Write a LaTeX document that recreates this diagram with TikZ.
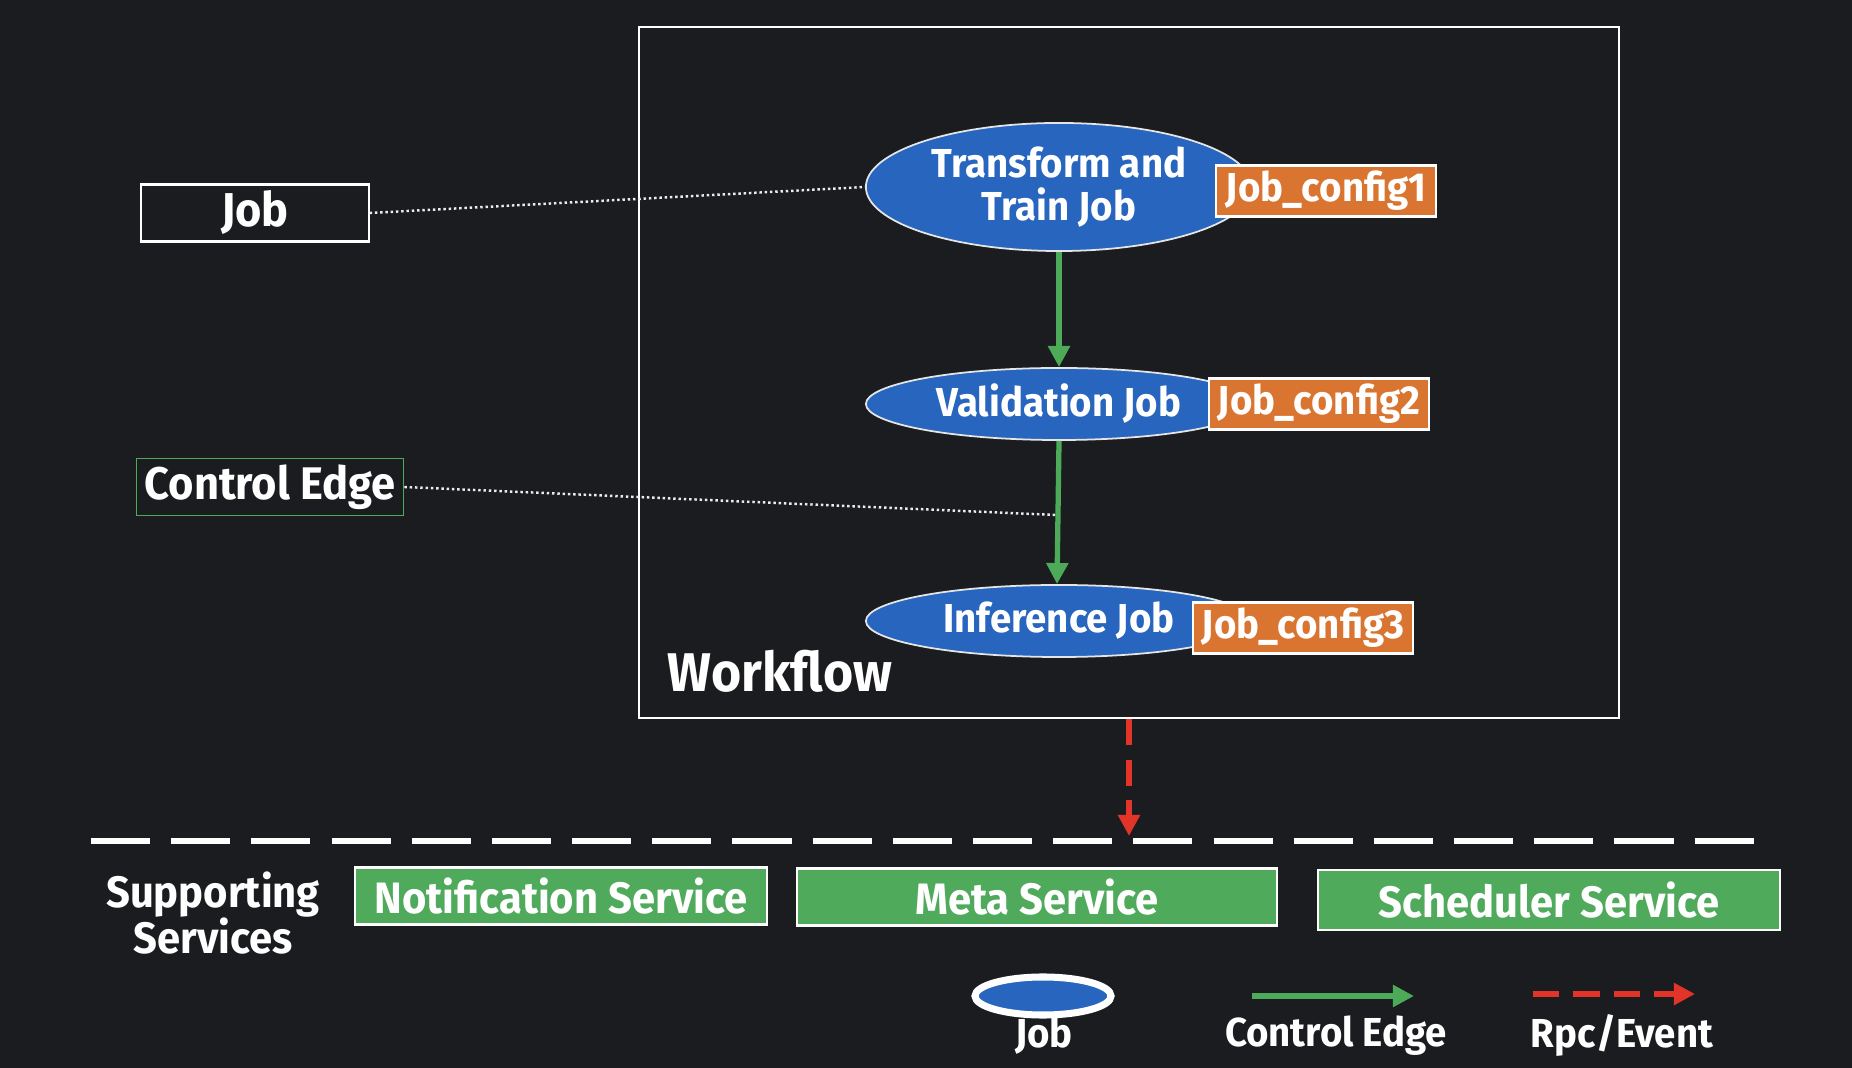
\documentclass[tikz,border=0pt]{standalone}
\usepackage{fontspec}
\setmainfont{Fira Sans}[FakeStretch=0.95]
\usetikzlibrary{arrows.meta,shapes.geometric}

\definecolor{bgdark}{RGB}{26,28,31}
\definecolor{jobblue}{RGB}{39,101,190}
\definecolor{cfgorange}{RGB}{217,117,48}
\definecolor{svcgreen}{RGB}{80,170,92}
\definecolor{edgegreen}{RGB}{76,170,88}
\definecolor{rpcred}{RGB}{226,52,40}

\newcommand{\txtsize}[1]{\fontsize{#1}{1.05\dimexpr#1pt\relax}\selectfont}

\begin{document}
\begin{tikzpicture}[x=0.01cm, y=-0.01cm, text=white, font=\bfseries,
    jobnode/.style={ellipse, draw=white!80!gray, line width=0.5pt, fill=jobblue,
        inner sep=0pt, minimum width=3.86cm, align=center, font=\bfseries\txtsize{11.5}},
    cfgbox/.style={draw=white, line width=0.6pt, fill=cfgorange, minimum width=2.2cm,
        minimum height=0.51cm, inner sep=0pt, font=\bfseries\txtsize{11.5}},
    svcbox/.style={draw=white, line width=0.6pt, fill=svcgreen, minimum height=0.57cm,
        inner sep=0pt, font=\bfseries\txtsize{12.5}},
    ctrledge/.style={draw=edgegreen, line width=1.5pt, -{Triangle[length=6pt,width=6pt]}},
    rpcedge/.style={draw=rpcred, line width=1.8pt, dash pattern=on 7.5pt off 4pt,
        -{Triangle[length=6pt,width=6pt]}},
    pointer/.style={draw=white!85!gray, line width=0.7pt, dash pattern=on 0.7pt off 0.8pt}]
        \fill[bgdark] (0,0) rectangle (1852,1068);
        \useasboundingbox (0,0) rectangle (1852,1068);

        % workflow frame
        \node[draw=white, line width=0.5pt, minimum width=9.8cm, minimum height=6.91cm] (wf) at (1129,372.5) {};
        \node[font=\bfseries\txtsize{15.5}] (wflabel) at (780,671) {Workflow};

        % jobs and their configs
        \node[jobnode, minimum height=1.28cm] (train) at (1059,187) {Transform and\\Train Job};
        \node[jobnode, minimum height=0.72cm] (valid) at (1059,404) {Validation Job};
        \node[jobnode, minimum height=0.72cm] (infer) at (1059,621) {Inference Job};
        \foreach \n/\x/\y in {1/1326/191, 2/1319/404, 3/1303/628} {
            \node[cfgbox] (cfg\n) at (\x,\y) {Job\_config\n};
        }

        % control edges
        \draw[ctrledge] (train) -- (valid);
        \draw[ctrledge] (valid.south) -- (infer.north -| 1057,0);
        \coordinate (edgemid) at (1056,515);

        % callouts
        \node[draw=white, line width=0.6pt, inner sep=0pt, minimum width=2.27cm, minimum height=0.57cm,
            font=\bfseries\txtsize{13.5}] (jobtag) at (255,213) {Job};
        \node[draw=edgegreen, line width=0.5pt, inner sep=0pt, minimum width=2.67cm, minimum height=0.57cm,
            font=\bfseries\txtsize{13}] (edgetag) at (270,487) {Control Edge};
        \draw[pointer] (jobtag.east) -- (train.west);
        \draw[pointer] (edgetag.east) -- (edgemid);

        % supporting services
        \coordinate (bustop) at (1129,836);
        \draw[rpcedge] (wf.south) -- (bustop);
        \draw[white, line width=1.8pt, dash pattern=on 16.8pt off 6pt] (91,841) -- (1762,841);
        \node[align=center, font=\bfseries\txtsize{12.5}] (support) at (213,913) {Supporting\\Services};
        \node[svcbox, minimum width=4.12cm] (notify) at (561,896) {Notification Service};
        \node[svcbox, minimum width=4.8cm] (meta) at (1037,897) {Meta Service};
        \node[svcbox, minimum width=4.61cm, minimum height=0.6cm] (sched) at (1549,900) {Scheduler Service};

        % legend
        \node[ellipse, draw=white, line width=2pt, fill=jobblue, minimum width=1.36cm,
            minimum height=0.38cm] (legjob) at (1043,996) {};
        \node[font=\bfseries\txtsize{11.5}] (legjobtxt) at (1044,1036) {Job};
        \coordinate (legedgeA) at (1252,996);
        \coordinate (legedgeB) at (1414,996);
        \draw[ctrledge, line width=1.7pt] (legedgeA) -- (legedgeB);
        \node[font=\bfseries\txtsize{11.5}] (legedgetxt) at (1336,1036) {Control Edge};
        \coordinate (legrpcA) at (1533,994);
        \coordinate (legrpcB) at (1695,994);
        \draw[rpcedge] (legrpcA) -- (legrpcB);
        \node[font=\bfseries\txtsize{11.5}] (legrpctxt) at (1622,1035) {Rpc/Event};
    \end{tikzpicture}
\end{document}
